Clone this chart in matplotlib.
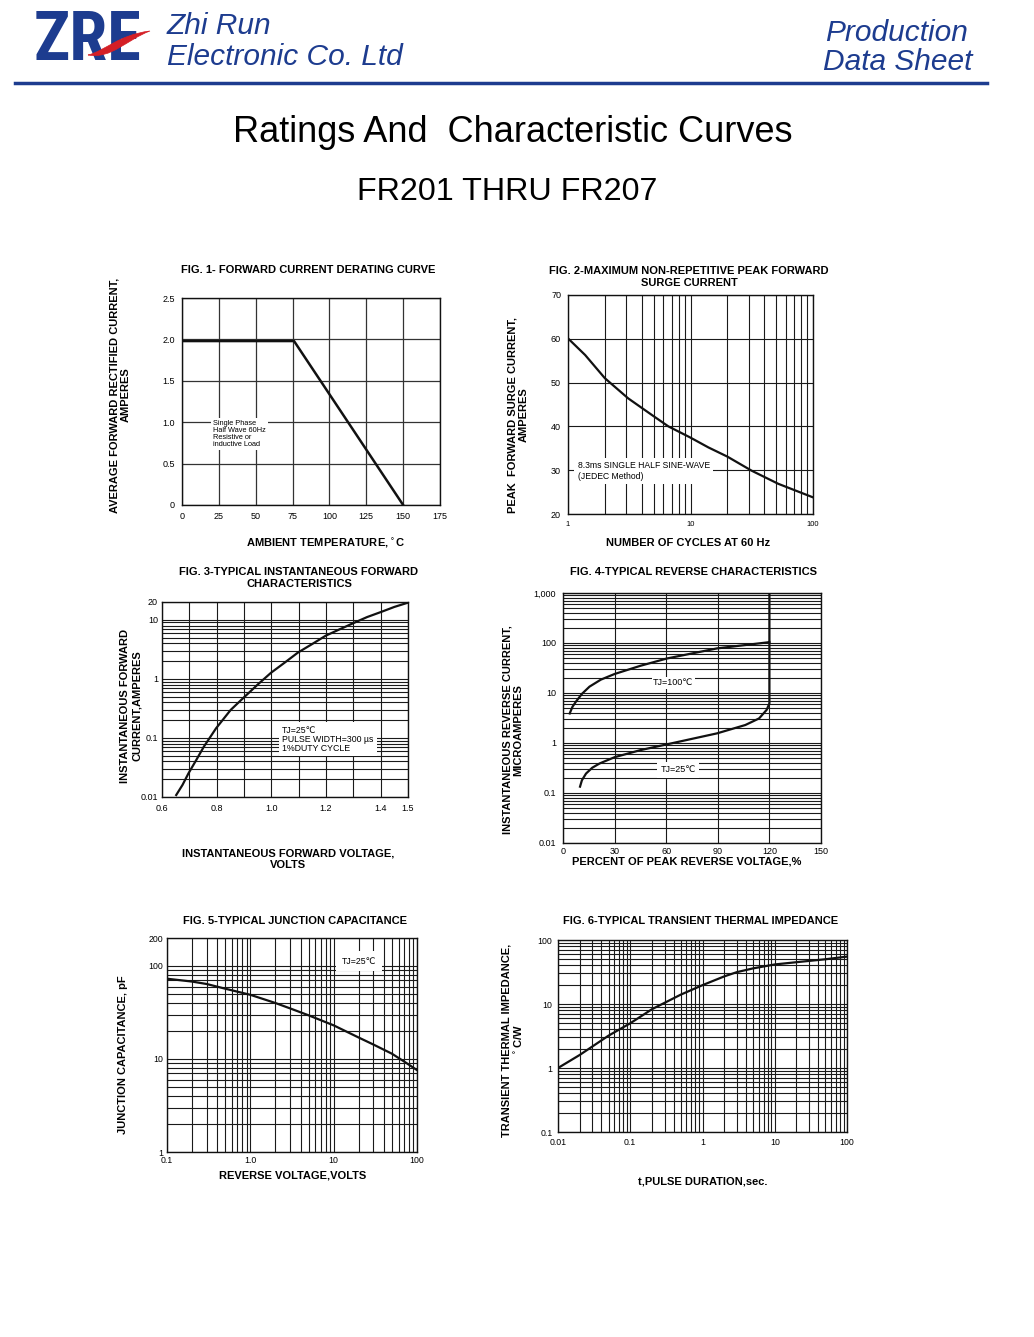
import numpy as np
import matplotlib
matplotlib.use("Agg")
import matplotlib.pyplot as plt
from matplotlib import font_manager
from matplotlib.ticker import FixedLocator, NullFormatter, FixedFormatter
from matplotlib.path import Path
from matplotlib.patches import PathPatch

plt.rcParams['font.family'] = ['Liberation Sans', 'DejaVu Sans']

W, H = 1034, 1337

# ---- data ----
# fig 1 derating
f1_temp = [0, 76, 150]
f1_amps = [1.98, 1.98, 0.0]
# fig 2 surge current
f2_cycles = [1, 1.38, 2, 3.1, 4.9, 6.6, 9.9, 14, 20, 31.5, 52, 100]
f2_amps = [60.1, 56.3, 51.0, 46.4, 42.5, 40.0, 37.5, 35.2, 33.1, 29.9, 26.9, 23.8]
# fig 3 forward characteristics
f3_volts = [0.652, 0.675, 0.697, 0.725, 0.753, 0.798, 0.851, 0.896, 0.95, 0.999,
            1.05, 1.097, 1.15, 1.199, 1.25, 1.304, 1.35, 1.404, 1.45, 1.5]
f3_amps = [0.0108, 0.016, 0.0252, 0.042, 0.071, 0.146, 0.297, 0.468, 0.80, 1.27,
           1.9, 2.78, 3.9, 5.38, 6.9, 8.94, 11.1, 13.7, 16.5, 19.5]
# fig 4 reverse characteristics
f4_pct_100 = [3.9, 5.5, 7.5, 11, 15.4, 22, 30, 45, 60.4, 89.6, 119, 120]
f4_ua_100 = [3.9, 5.3, 6.7, 9.6, 13.4, 18.5, 24, 35, 49, 78, 103, 105]
f4_pct_25 = [9.9, 11, 13.4, 17, 21.3, 30, 45, 60.4, 89.6, 106, 114, 118.4, 120, 120]
f4_ua_25 = [0.134, 0.18, 0.245, 0.32, 0.39, 0.52, 0.72, 0.94, 1.56, 2.29, 3.1, 4.6, 6.2, 1000]
# fig 5 junction capacitance
f5_volts = [0.1, 0.2, 0.3, 0.5, 1.0, 2, 3, 5, 10, 20, 30, 50, 70, 100]
f5_pf = [73, 68, 64, 57, 49, 40, 35, 29.5, 23, 17, 14.3, 11.4, 9.4, 7.6]
# fig 6 thermal impedance
f6_t = [0.01, 0.02, 0.05, 0.1, 0.2, 0.5, 1, 2, 3, 5, 10, 20, 50, 100]
f6_z = [1.0, 1.6, 3.2, 5.0, 8.3, 14, 19.7, 27, 31.5, 36, 41.5, 45, 50, 55]

fig = plt.figure(figsize=(W / 100, H / 100), dpi=100)
renderer = fig.canvas.get_renderer()

def fx(x):
    return x / W

def fy(y):
    return 1 - y / H

def fit(t, width):
    w = t.get_window_extent(renderer).width
    t.set_fontsize(t.get_fontsize() * width / w)

def make_ax(l, t, r, b):
    ax = fig.add_axes([fx(l), fy(b), (r - l) / W, (b - t) / H])
    for s in ax.spines.values():
        s.set_linewidth(1.0)
        s.set_color('#111111')
    ax.tick_params(which='both', length=0, labelsize=6.5, pad=5)
    return ax

def grid(ax, lw=0.8):
    ax.grid(True, which='both', color='#1a1a1a', linewidth=lw)
    ax.set_axisbelow(True)

def label(x, y, s, size=8, rot=0, ha='center'):
    fig.text(fx(x), fy(y), s, fontsize=size, fontweight='bold', rotation=rot,
             ha=ha, va='center', linespacing=1.15)

# ---- header ----
names = {f.name for f in font_manager.fontManager.ttflist}
narrow = [n for n in ['Liberation Sans Narrow', 'Roboto Condensed', 'Open Sans Condensed']
          if n in names]
blue = '#1d3c8f'
logo = fig.text(fx(34), fy(42), 'ZRE', fontsize=52, fontweight='heavy',
                color=blue, family=narrow + ['Liberation Sans'], va='center', ha='left')
fit(logo, 108)
verts = [(88, 55), (105, 51), (118, 35), (150, 31),
         (126, 40), (112, 59), (88, 55)]
codes = [Path.MOVETO, Path.CURVE4, Path.CURVE4, Path.CURVE4,
         Path.CURVE4, Path.CURVE4, Path.CURVE4]
pp = PathPatch(Path([(fx(a), fy(b)) for a, b in verts], codes),
               transform=fig.transFigure, fc='#d41f26', ec='#d41f26', lw=0.5, zorder=5)
fig.patches.append(pp)
for txt, x, y, ha in [('Zhi Run', 167, 26, 'left'),
                      ('Electronic Co. Ltd', 167, 57, 'left'),
                      ('Production', 968, 33, 'right'),
                      ('Data Sheet', 972, 62, 'right')]:
    fig.text(fx(x), fy(y), txt, fontsize=21.5, style='italic', color=blue,
             family=['Liberation Sans'], va='center', ha=ha)
fig.add_artist(plt.Line2D([fx(15), fx(987)], [fy(83), fy(83)], color=blue, lw=2.5,
                          transform=fig.transFigure))

t = fig.text(fx(513), fy(132), 'Ratings And  Characteristic Curves', fontsize=26,
             ha='center', va='center')
fit(t, 560)
t = fig.text(fx(507), fy(192), 'FR201 THRU FR207', fontsize=23, ha='center', va='center')
fit(t, 301)

# ---- fig 1 ----
ax1 = make_ax(182, 298, 440, 505)
ax1.set_xlim(0, 175)
ax1.set_ylim(0, 2.5)
ax1.set_xticks([0, 25, 50, 75, 100, 125, 150, 175])
ax1.set_yticks([0, 0.5, 1.0, 1.5, 2.0, 2.5])
ax1.set_yticklabels(['0', '0.5', '1.0', '1.5', '2.0', '2.5'])
ax1.grid(True, color='#333333', linewidth=0.9)
ax1.set_axisbelow(True)
ax1.plot(f1_temp, f1_amps, color='#111111', lw=1.8)
ax1.text(21, 1.03, 'Single Phase\nHalf Wave 60Hz\nResistive or\ninductive Load',
         fontsize=5.3, va='top', ha='left', linespacing=1.0,
         bbox=dict(fc='white', ec='none', pad=1.5))
label(308, 270, 'FIG. 1- FORWARD CURRENT DERATING CURVE')
label(326, 543, 'AMBIENT TEMPERATURE,$^\\circ$C')
label(120, 395, 'AVERAGE FORWARD RECTIFIED CURRENT,\nAMPERES', rot=90)

# ---- fig 2 ----
ax2 = make_ax(568, 295, 813, 514)
ax2.set_xscale('log')
ax2.set_xlim(1, 100)
ax2.set_ylim(20, 70)
ax2.set_yticks([20, 30, 40, 50, 60, 70])
ax2.xaxis.set_major_locator(FixedLocator([1, 10, 100]))
ax2.xaxis.set_major_formatter(FixedFormatter(['1', '10', '100']))
ax2.xaxis.set_minor_locator(FixedLocator([2, 3, 4, 5, 6, 7, 8, 9, 20, 30, 40, 50, 60, 70, 80, 90]))
ax2.xaxis.set_minor_formatter(NullFormatter())
ax2.tick_params(axis='x', labelsize=5.5)
grid(ax2)
ax2.plot(f2_cycles, f2_amps, color='#111111', lw=1.6)
ax2.text(1.2, 29.8, '8.3ms SINGLE HALF SINE-WAVE\n(JEDEC Method)', fontsize=6.2,
         va='center', ha='left', linespacing=1.2,
         bbox=dict(fc='white', ec='none', pad=2.5))
label(689, 271, 'FIG. 2-MAXIMUM NON-REPETITIVE PEAK FORWARD')
label(689, 283.5, 'SURGE CURRENT')
label(688, 543, 'NUMBER OF CYCLES AT 60 Hz')
label(518, 415, 'PEAK  FORWARD SURGE CURRENT,\nAMPERES', rot=90)

# ---- fig 3 ----
ax3 = make_ax(162, 602, 408, 797)
ax3.set_yscale('log')
ax3.set_xlim(0.6, 1.5)
ax3.set_ylim(0.01, 20)
ax3.set_xticks([0.6, 0.8, 1.0, 1.2, 1.4, 1.5])
ax3.set_xticklabels(['0.6', '0.8', '1.0', '1.2', '1.4', '1.5'])
ax3.set_xticks([0.7, 0.9, 1.1, 1.3], minor=True)
ax3.yaxis.set_major_locator(FixedLocator([0.01, 0.1, 1, 10, 20]))
ax3.yaxis.set_major_formatter(FixedFormatter(['0.01', '0.1', '1', '10', '20']))
ax3.yaxis.set_minor_locator(FixedLocator([m * d for d in (0.01, 0.1, 1) for m in range(2, 10)]))
ax3.yaxis.set_minor_formatter(NullFormatter())
ax3.tick_params(axis='y', pad=3)
grid(ax3)
ax3.plot(f3_volts, f3_amps, color='#111111', lw=1.6)
ax3.text(1.04, 0.095, 'TJ=25\u2103\nPULSE WIDTH=300 \u00b5s\n1%DUTY CYCLE', fontsize=6.3,
         va='center', ha='left', linespacing=1.0,
         bbox=dict(fc='white', ec='none', pad=2.5))
label(299, 572, 'FIG. 3-TYPICAL INSTANTANEOUS FORWARD')
label(299, 584.5, 'CHARACTERISTICS')
label(288, 853, 'INSTANTANEOUS FORWARD VOLTAGE,')
label(288, 865, 'VOLTS')
label(131, 706, 'INSTANTANEOUS FORWARD\nCURRENT,AMPERES', rot=90)

# ---- fig 4 ----
ax4 = make_ax(563, 593, 821, 843)
ax4.set_yscale('log')
ax4.set_xlim(0, 150)
ax4.set_ylim(0.01, 1000)
ax4.set_xticks([0, 30, 60, 90, 120, 150])
ax4.yaxis.set_major_locator(FixedLocator([0.01, 0.1, 1, 10, 100, 1000]))
ax4.yaxis.set_major_formatter(FixedFormatter(['0.01', '0.1', '1', '10', '100', '1,000']))
ax4.yaxis.set_minor_locator(FixedLocator([m * d for d in (0.01, 0.1, 1, 10, 100) for m in range(2, 10)]))
ax4.yaxis.set_minor_formatter(NullFormatter())
ax4.tick_params(axis='x', pad=3)
grid(ax4)
ax4.plot(f4_pct_100, f4_ua_100, color='#111111', lw=1.6)
ax4.plot(f4_pct_25, f4_ua_25, color='#111111', lw=1.6)
ax4.text(64, 16, 'TJ=100\u2103', fontsize=6.5, ha='center', va='center',
         bbox=dict(fc='white', ec='none', pad=1))
ax4.text(67, 0.29, 'TJ=25\u2103', fontsize=6.5, ha='center', va='center',
         bbox=dict(fc='white', ec='none', pad=2.5))
label(694, 572, 'FIG. 4-TYPICAL REVERSE CHARACTERISTICS')
label(687, 862, 'PERCENT OF PEAK REVERSE VOLTAGE,%')
label(513, 730, 'INSTANTANEOUS REVERSE CURRENT,\nMICROAMPERES', rot=90)

# ---- fig 5 ----
ax5 = make_ax(167, 938, 417, 1152)
ax5.set_xscale('log')
ax5.set_yscale('log')
ax5.set_xlim(0.1, 100)
ax5.set_ylim(1, 200)
ax5.xaxis.set_major_locator(FixedLocator([0.1, 1, 10, 100]))
ax5.xaxis.set_major_formatter(FixedFormatter(['0.1', '1.0', '10', '100']))
ax5.xaxis.set_minor_locator(FixedLocator([m * d for d in (0.1, 1, 10) for m in range(2, 10)]))
ax5.xaxis.set_minor_formatter(NullFormatter())
ax5.yaxis.set_major_locator(FixedLocator([1, 10, 100, 200]))
ax5.yaxis.set_major_formatter(FixedFormatter(['1', '10', '100', '200']))
ax5.yaxis.set_minor_locator(FixedLocator([m * d for d in (1, 10) for m in range(2, 10)]))
ax5.yaxis.set_minor_formatter(NullFormatter())
ax5.tick_params(labelsize=6.3, pad=3)
grid(ax5)
ax5.plot(f5_volts, f5_pf, color='#111111', lw=1.6)
ax5.text(20, 112, 'TJ=25\u2103', fontsize=6.3, ha='center', va='center',
         bbox=dict(fc='white', ec='none', pad=4))
label(295, 921, 'FIG. 5-TYPICAL JUNCTION CAPACITANCE')
label(293, 1176, 'REVERSE VOLTAGE,VOLTS')
label(123, 1055, 'JUNCTION CAPACITANCE, pF', rot=90)

# ---- fig 6 ----
ax6 = make_ax(558, 940, 847, 1132)
ax6.set_xscale('log')
ax6.set_yscale('log')
ax6.set_xlim(0.01, 100)
ax6.set_ylim(0.1, 100)
ax6.xaxis.set_major_locator(FixedLocator([0.01, 0.1, 1, 10, 100]))
ax6.xaxis.set_major_formatter(FixedFormatter(['0.01', '0.1', '1', '10', '100']))
ax6.xaxis.set_minor_locator(FixedLocator([m * d for d in (0.01, 0.1, 1, 10) for m in range(2, 10)]))
ax6.xaxis.set_minor_formatter(NullFormatter())
ax6.yaxis.set_major_locator(FixedLocator([0.1, 1, 10, 100]))
ax6.yaxis.set_major_formatter(FixedFormatter(['0.1', '1', '10', '100']))
ax6.yaxis.set_minor_locator(FixedLocator([m * d for d in (0.1, 1, 10) for m in range(2, 10)]))
ax6.yaxis.set_minor_formatter(NullFormatter())
ax6.tick_params(labelsize=6.3, pad=4)
grid(ax6)
ax6.plot(f6_t, f6_z, color='#111111', lw=1.6)
label(701, 921, 'FIG. 6-TYPICAL TRANSIENT THERMAL IMPEDANCE')
label(703, 1182, 't,PULSE DURATION,sec.')
label(513, 1040, 'TRANSIENT THERMAL IMPEDANCE,\n$^\\circ$C/W', rot=90)

fig.savefig('out.png', dpi=100)
